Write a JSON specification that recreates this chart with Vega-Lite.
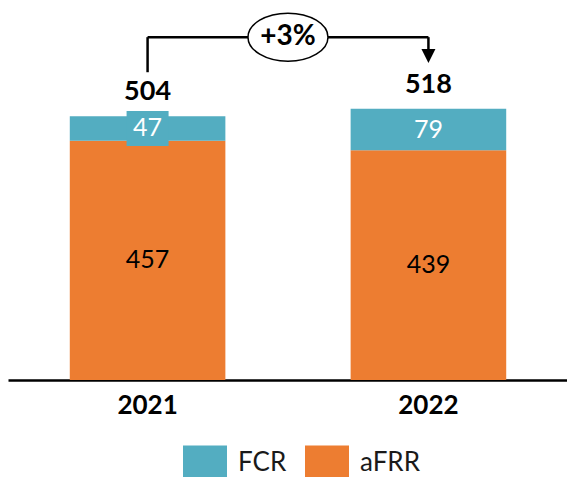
{
  "$schema": "https://vega.github.io/schema/vega-lite/v6.json",
  "autosize": "none",
  "width": 560,
  "height": 380,
  "padding": {"left": 8, "top": 0, "right": 0, "bottom": 97},
  "config": {"font": "Lato", "view": {"stroke": null}},
  "data": {"values": [
    {"year": "2021", "type": "aFRR", "value": 457},
    {"year": "2021", "type": "FCR", "value": 47},
    {"year": "2022", "type": "aFRR", "value": 439},
    {"year": "2022", "type": "FCR", "value": 79}
  ]},
  "layer": [
    {
      "mark": {"type": "bar"},
      "encoding": {
        "x": {"field": "year", "type": "nominal", "scale": {"paddingInner": 0.446, "paddingOuter": 0.22},
          "axis": {"title": null, "ticks": false, "domainColor": "#000000", "domainWidth": 2.5, "labelFontSize": 26, "labelFontWeight": "bold", "labelColor": "#000000", "labelPadding": 12, "labelAngle": 0, "grid": false}},
        "y": {"field": "value", "type": "quantitative", "stack": "zero", "scale": {"domain": [0, 726], "nice": false, "zero": true}, "axis": null},
        "color": {"field": "type", "type": "nominal",
          "scale": {"domain": ["FCR", "aFRR"], "range": ["#53ADC1", "#ED7D31"]},
          "legend": {"title": null, "orient": "none", "legendX": 175, "legendY": 441, "direction": "horizontal",
            "symbolType": "M-1,-0.82H1V0.82H-1Z", "symbolSize": 1936, "symbolStrokeWidth": 0, "symbolOpacity": 1,
            "labelFontSize": 26, "labelColor": "#1a1a1a", "labelOffset": 11, "columnPadding": 18, "padding": 0}},
        "order": {"field": "type", "sort": "descending"}
      }
    },
    {
      "transform": [
        {"stack": "value", "groupby": ["year"], "sort": [{"field": "type", "order": "descending"}], "as": ["y0", "y1"]},
        {"calculate": "(datum.y0 + datum.y1) / 2", "as": "mid"},
        {"filter": "datum.year === '2021' && datum.type === 'FCR'"}
      ],
      "mark": {"type": "point", "shape": "M-1,-0.83H1V0.83H-1Z", "filled": true, "color": "#53ADC1", "opacity": 1, "size": 1764, "strokeWidth": 0},
      "encoding": {
        "x": {"field": "year", "type": "nominal"},
        "y": {"field": "mid", "type": "quantitative"}
      }
    },
    {
      "transform": [
        {"stack": "value", "groupby": ["year"], "sort": [{"field": "type", "order": "descending"}], "as": ["y0", "y1"]},
        {"calculate": "(datum.y0 + datum.y1) / 2", "as": "mid"}
      ],
      "mark": {"type": "text", "fontSize": 25, "baseline": "middle"},
      "encoding": {
        "x": {"field": "year", "type": "nominal"},
        "y": {"field": "mid", "type": "quantitative"},
        "text": {"field": "value", "type": "quantitative"},
        "color": {"condition": {"test": "datum.type === 'FCR'", "value": "#ffffff"}, "value": "#000000"}
      }
    },
    {
      "mark": {"type": "text", "fontSize": 27, "fontWeight": "bold", "baseline": "bottom", "dy": -10, "color": "#000000"},
      "encoding": {
        "x": {"field": "year", "type": "nominal"},
        "y": {"aggregate": "sum", "field": "value", "type": "quantitative"},
        "text": {"aggregate": "sum", "field": "value", "type": "quantitative"}
      }
    },
    {
      "data": {"values": [{"from": "2021", "to": "2022", "change": "+3%"}]},
      "layer": [
        {
          "mark": {"type": "rule", "color": "#000000", "strokeWidth": 2.5},
          "encoding": {"x": {"field": "from", "type": "nominal"}, "y": {"datum": 588}, "y2": {"datum": 655}}
        },
        {
          "mark": {"type": "rule", "color": "#000000", "strokeWidth": 2.5},
          "encoding": {"x": {"field": "from", "type": "nominal"}, "x2": {"field": "to"}, "y": {"datum": 655}}
        },
        {
          "mark": {"type": "rule", "color": "#000000", "strokeWidth": 2.5},
          "encoding": {"x": {"field": "to", "type": "nominal"}, "y": {"datum": 655}, "y2": {"datum": 630}}
        },
        {
          "mark": {"type": "point", "shape": "M-1,-1H1L0,1Z", "filled": true, "color": "#000000", "opacity": 1, "size": 196, "strokeWidth": 0},
          "encoding": {"x": {"field": "to", "type": "nominal"}, "y": {"datum": 619}}
        },
        {
          "mark": {"type": "point", "shape": "M-1,0C-1,-0.3314,-0.5523,-0.6,0,-0.6C0.5523,-0.6,1,-0.3314,1,0C1,0.3314,0.5523,0.6,0,0.6C-0.5523,0.6,-1,0.3314,-1,0Z", "filled": true, "fill": "#ffffff", "stroke": "#000000", "strokeWidth": 1.5, "opacity": 1, "size": 6400},
          "encoding": {"x": {"field": "from", "type": "nominal", "bandPosition": 1.4025}, "y": {"datum": 655}}
        },
        {
          "mark": {"type": "text", "fontSize": 28, "fontWeight": "bold", "baseline": "middle", "color": "#000000"},
          "encoding": {"x": {"field": "from", "type": "nominal", "bandPosition": 1.4025}, "y": {"datum": 655}, "text": {"field": "change"}}
        }
      ]
    }
  ]
}
